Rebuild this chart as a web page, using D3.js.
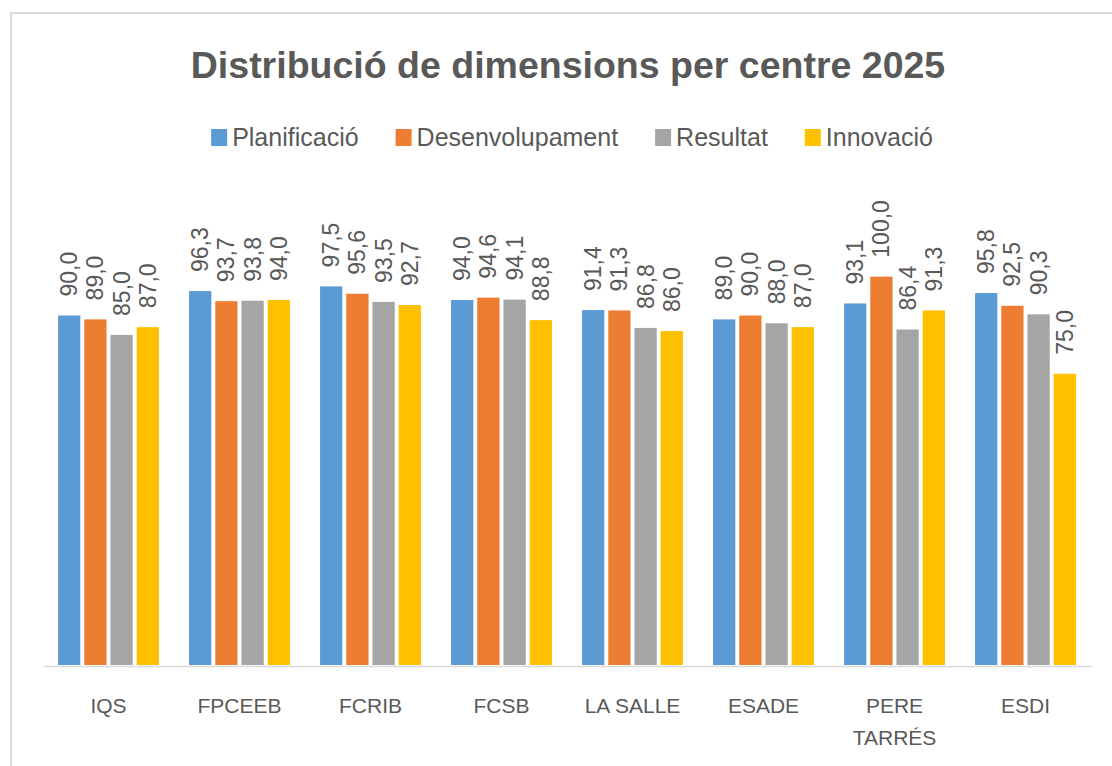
<!DOCTYPE html>
<html>
<head>
<meta charset="utf-8">
<script src="https://cdn.jsdelivr.net/npm/d3@7"></script>
<style>
  body { margin: 0; background: #fff; }
  svg text { font-family: "Liberation Sans", Arial, sans-serif; fill: #595959; }
</style>
</head>
<body>
<div id="chart"></div>
<script>
// data
const categories = ["IQS", "FPCEEB", "FCRIB", "FCSB", "LA SALLE", "ESADE", "PERE TARRÉS", "ESDI"];
const seriesNames = ["Planificació", "Desenvolupament", "Resultat", "Innovació"];
const planificacio = [90.0, 96.3, 97.5, 94.0, 91.4, 89.0, 93.1, 95.8];
const desenvolupament = [89.0, 93.7, 95.6, 94.6, 91.3, 90.0, 100.0, 92.5];
const resultat = [85.0, 93.8, 93.5, 94.1, 86.8, 88.0, 86.4, 90.3];
const innovacio = [87.0, 94.0, 92.7, 88.8, 86.0, 87.0, 91.3, 75.0];
const seriesValues = [planificacio, desenvolupament, resultat, innovacio];
const colors = ["#5B9BD5", "#ED7D31", "#A5A5A5", "#FFC000"];

const svgWidth = 1112;
const svgHeight = 766;

const svg = d3.select("#chart")
  .append("svg")
  .attr("width", svgWidth)
  .attr("height", svgHeight);

// chart frame (runs off the right and bottom edges in the screenshot)
svg.append("rect")
  .attr("x", 11).attr("y", 13)
  .attr("width", 1300).attr("height", 900)
  .attr("fill", "#fff")
  .attr("stroke", "#d9d9d9")
  .attr("stroke-width", 2);

// title
svg.append("text")
  .attr("x", 568).attr("y", 78)
  .attr("text-anchor", "middle")
  .style("font-size", "37.5px")
  .style("font-weight", "bold")
  .text("Distribució de dimensions per centre 2025");

// scales
const x0 = d3.scaleBand().domain(categories).range([43, 1091])
  .paddingInner(0.23).paddingOuter(0.115);
const x1 = d3.scaleBand().domain(seriesNames).range([0, x0.bandwidth()])
  .paddingInner(0.15);
const y = d3.scaleLinear().domain([0, 120]).range([665, 199]);

const fmt = v => d3.format(".1f")(v).replace(".", ",");

// legend
const legend = svg.append("g");
let lx = 0;
seriesNames.forEach((name, i) => {
  const item = legend.append("g").attr("transform", `translate(${lx},0)`);
  item.append("rect")
    .attr("x", 0).attr("y", 129)
    .attr("width", 16).attr("height", 17)
    .attr("fill", colors[i]);
  const t = item.append("text")
    .attr("x", 21).attr("y", 146)
    .style("font-size", "25px")
    .text(name);
  lx += 21 + t.node().getComputedTextLength() + 37;
});
const legendWidth = lx - 37;
legend.attr("transform", `translate(${572 - legendWidth / 2},0)`);

// bars
const groups = svg.append("g")
  .selectAll("g")
  .data(categories)
  .join("g")
  .attr("transform", d => `translate(${x0(d)},0)`);

seriesNames.forEach((name, s) => {
  groups.append("rect")
    .attr("x", x1(name))
    .attr("width", x1.bandwidth())
    .attr("y", (d, i) => y(seriesValues[s][i]))
    .attr("height", (d, i) => y(0) - y(seriesValues[s][i]))
    .attr("fill", colors[s]);

  // value labels, rotated
  groups.append("text")
    .attr("transform", (d, i) =>
      `translate(${x1(name) + x1.bandwidth() / 2},${y(seriesValues[s][i]) - 19}) rotate(-90)`)
    .attr("dy", "0.35em")
    .style("font-size", "23px")
    .text((d, i) => fmt(seriesValues[s][i]));
});

// x axis
const xAxis = svg.append("g")
  .attr("transform", `translate(0,${y(0) + 1})`)
  .call(d3.axisBottom(x0).tickSize(0).tickPadding(32).tickSizeOuter(0));

xAxis.select(".domain")
  .attr("stroke", "#d9d9d9")
  .attr("stroke-width", 1.5);

// wrap labels that are wider than the category slot
xAxis.selectAll(".tick text")
  .style("font-size", "21px")
  .style("font-family", '"Liberation Sans", Arial, sans-serif')
  .attr("fill", "#595959")
  .each(function () {
    const t = d3.select(this);
    if (this.getComputedTextLength() > x0.step() * 0.85) {
      const words = t.text().split(" ");
      const ty = +t.attr("y");
      t.text(null);
      words.forEach((w, k) => {
        t.append("tspan")
          .attr("x", 0)
          .attr("y", ty + k * 32)
          .attr("dy", "0.71em")
          .text(w);
      });
    }
  });
</script>
</body>
</html>
